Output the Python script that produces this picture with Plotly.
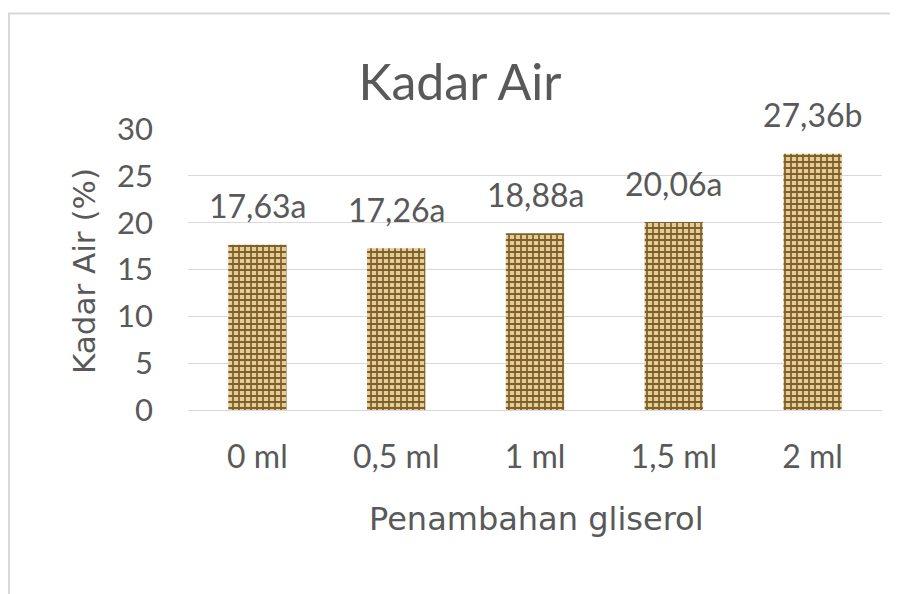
import plotly.graph_objects as go

categories = ["0 ml", "0,5 ml", "1 ml", "1,5 ml", "2 ml"]
values = [17.63, 17.26, 18.88, 20.06, 27.36]
labels = ["17,63a", "17,26a", "18,88a", "20,06a", "27,36b"]
y_ticks = [0, 5, 10, 15, 20, 25, 30]

OFF = 8  # page body margin
W, H = 898 - OFF, 594 - OFF
PL, PR, PT, PB = 188, 882, 129, 410  # plot area in page coords
L, R, T, B = PL - OFF, (OFF + W) - PR, PT - OFF, (OFF + H) - PB
pw, ph = PR - PL, PB - PT

FONT = "Lato"
GRAY = "#595959"


def px(x):
    return (x - PL) / pw


def py(y):
    return (PB - y) / ph


fig = go.Figure()
fig.add_trace(go.Bar(
    x=categories, y=values,
    marker=dict(
        color="#d8bd84",
        line=dict(width=0),
        pattern=dict(shape="+", fgcolor="#80602a", bgcolor="#e4cc96",
                     size=6, solidity=0.5, fillmode="replace"),
    ),
    hoverinfo="skip",
))

for c, v, t in zip(categories, values, labels):
    fig.add_annotation(x=c, y=v, text=t, showarrow=False, xanchor="center",
                       yanchor="middle", yshift=39,
                       font=dict(family=FONT, size=32, color=GRAY))

# outer chart border (left and top)
fig.add_shape(type="path", xref="paper", yref="paper",
              path=f"M {px(9)} {py(700)} L {px(9)} {py(13.5)} L {px(1000)} {py(13.5)}",
              line=dict(color="#d9d9d9", width=2))

fig.add_annotation(xref="paper", yref="paper", x=px(84), y=py(271),
                   xanchor="center", yanchor="middle",
                   text="Kadar Air (%)", textangle=-90, showarrow=False,
                   font=dict(family="DejaVu Sans", size=31, color=GRAY))
fig.add_annotation(xref="paper", yref="paper", x=px(536), y=py(519),
                   xanchor="center", yanchor="middle",
                   text="Penambahan gliserol", showarrow=False,
                   font=dict(family="DejaVu Sans", size=32, color=GRAY))

fig.update_layout(
    width=W, height=H,
    margin=dict(l=L, r=R, t=T, b=B),
    paper_bgcolor="white", plot_bgcolor="white",
    title=dict(text="Kadar Air", x=(460 - OFF) / W, xanchor="center",
               y=1 - (82 - OFF) / H, yanchor="middle",
               font=dict(family=FONT, size=50, color=GRAY)),
    bargap=0.58,
    showlegend=False,
)
fig.update_xaxes(showgrid=False, showline=True, linecolor="#d9d9d9", linewidth=1,
                 ticks="", ticklabelstandoff=19,
                 tickfont=dict(family=FONT, size=32, color=GRAY))
fig.update_yaxes(range=[0, 30], tickvals=y_ticks, showgrid=True, gridcolor="#d9d9d9",
                 gridwidth=1, zeroline=False, showline=False, ticks="",
                 ticklabelstandoff=34,
                 tickfont=dict(family=FONT, size=31, color=GRAY))

fig.write_html("out.html")
